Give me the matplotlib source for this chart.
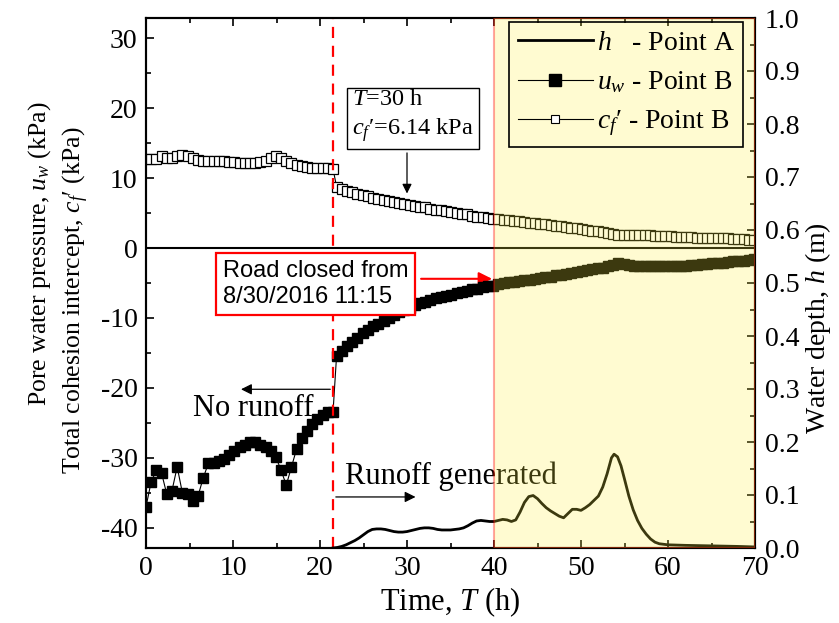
import numpy as np
import matplotlib.pyplot as plt
import matplotlib.ticker as ticker
from matplotlib.lines import Line2D

plt.rcParams['font.family'] = 'Liberation Serif'
plt.rcParams['mathtext.fontset'] = 'custom'
plt.rcParams['mathtext.rm'] = 'Liberation Serif'
plt.rcParams['mathtext.it'] = 'Liberation Serif:italic'

# sampling times (h), before and after road closure
t_before = np.linspace(0, 21.5, 37)
t_after = np.linspace(21.9, 69.9, 81)

# pore water pressure u_w at point B (kPa)
uw_before = [-37.0, -33.4, -31.8, -32.2, -35.2, -34.7, -31.3, -35.0, -35.2, -36.2,
             -35.5, -32.9, -30.8, -30.7, -30.5, -30.2, -29.6, -29.0, -28.5, -28.1,
             -27.7, -27.7, -28.1, -28.5, -29.0, -29.9, -31.8, -33.9, -31.3, -28.7,
             -27.1, -26.2, -25.2, -24.4, -23.9, -23.5, -23.4]
uw_after = [-15.5, -14.7, -14.0, -13.4, -12.8, -12.2, -11.7, -11.2, -10.8, -10.4,
            -10.0, -9.6, -9.2, -8.9, -8.6, -8.2, -7.9, -7.7, -7.4, -7.2,
            -7.0, -6.8, -6.7, -6.5, -6.3, -6.1, -5.9, -5.8, -5.6, -5.5,
            -5.4, -5.2, -5.0, -4.9, -4.8, -4.7, -4.6, -4.5, -4.4, -4.3,
            -4.2, -4.1, -3.9, -3.8, -3.7, -3.5, -3.4, -3.3, -3.2, -3.0,
            -2.9, -2.8, -2.6, -2.4, -2.2, -2.3, -2.4, -2.5, -2.5, -2.6,
            -2.6, -2.6, -2.6, -2.6, -2.6, -2.5, -2.5, -2.5, -2.4, -2.4,
            -2.3, -2.3, -2.2, -2.2, -2.1, -2.0, -1.9, -1.9, -1.8, -1.7, -1.6]

# total cohesion intercept c_f' at point B (kPa)
cf_before = [12.7, 12.8, 12.7, 13.1, 12.9, 12.9, 13.1, 13.3, 13.1, 12.9,
             12.6, 12.5, 12.5, 12.5, 12.5, 12.4, 12.3, 12.3, 12.2, 12.1,
             12.1, 12.2, 12.3, 12.5, 12.9, 13.1, 12.9, 12.5, 12.2, 11.9,
             11.8, 11.6, 11.5, 11.5, 11.4, 11.4, 11.3]
cf_after = [8.8, 8.5, 8.2, 8.0, 7.8, 7.6, 7.4, 7.2, 7.0, 6.9,
            6.7, 6.6, 6.4, 6.3, 6.1, 6.0, 5.9, 5.8, 5.6, 5.5,
            5.4, 5.3, 5.1, 5.0, 4.9, 4.8, 4.6, 4.5, 4.4, 4.3,
            4.2, 4.1, 4.0, 4.0, 3.9, 3.8, 3.7, 3.6, 3.6, 3.5,
            3.4, 3.3, 3.2, 3.1, 3.0, 2.9, 2.8, 2.7, 2.6, 2.5,
            2.4, 2.3, 2.1, 2.0, 1.8, 1.8, 1.8, 1.8, 1.8, 1.8,
            1.8, 1.7, 1.7, 1.7, 1.7, 1.6, 1.6, 1.6, 1.6, 1.5,
            1.5, 1.5, 1.5, 1.4, 1.4, 1.4, 1.3, 1.3, 1.3, 1.2, 1.2]

# water depth h at point A (m)
t_h = [21.5, 22.0, 22.5, 23.0, 23.5, 24.0, 24.5, 25.0, 25.5, 26.0, 26.5, 27.0, 27.5,
       28.0, 28.5, 29.0, 29.5, 30.0, 30.5, 31.0, 31.5, 32.0, 32.5, 33.0, 33.5, 34.0,
       34.5, 35.0, 35.5, 36.0, 36.5, 37.0, 37.5, 38.0, 38.5, 39.0, 39.5, 40.0, 40.5,
       41.0, 41.5, 42.0, 42.5, 43.0, 43.5, 44.0, 44.5, 45.0, 45.5, 46.0, 46.5, 47.0,
       47.5, 48.0, 48.5, 49.0, 49.5, 50.0, 50.5, 51.0, 51.5, 52.0, 52.5, 53.0, 53.5,
       53.8, 54.2, 54.6, 55.0, 55.5, 56.0, 56.5, 57.0, 57.5, 58.0, 58.5, 59.0, 60.0,
       62.0, 65.0, 68.0, 70.0]
h = [0.0, 0.001, 0.003, 0.006, 0.010, 0.014, 0.019, 0.025, 0.031, 0.035, 0.036, 0.036, 0.035,
     0.033, 0.031, 0.030, 0.030, 0.031, 0.033, 0.035, 0.037, 0.038, 0.038, 0.037, 0.035, 0.034,
     0.034, 0.034, 0.035, 0.036, 0.038, 0.042, 0.047, 0.051, 0.052, 0.051, 0.050, 0.050, 0.052,
     0.054, 0.053, 0.050, 0.053, 0.068, 0.086, 0.097, 0.099, 0.093, 0.084, 0.076, 0.070, 0.065,
     0.060, 0.057, 0.065, 0.073, 0.073, 0.071, 0.076, 0.082, 0.090, 0.098, 0.115, 0.140, 0.170,
     0.177, 0.172, 0.155, 0.130, 0.098, 0.072, 0.052, 0.037, 0.026, 0.017, 0.011, 0.008, 0.006,
     0.005, 0.004, 0.003, 0.002]

t_uw = np.concatenate([t_before, t_after])
uw = np.concatenate([uw_before, uw_after])
cf = np.concatenate([cf_before, cf_after])

CF = '$c_f$\u2032'

fig = plt.figure(figsize=(8.39, 6.23), dpi=100)
ax = fig.add_axes([146 / 839, 75 / 623, 609 / 839, 530 / 623])
ax2 = ax.twinx()

ax.plot(t_uw, cf, color='k', lw=0.8, marker='s', ms=6.5, mfc='white', mec='k', mew=0.9, zorder=3)
ax.plot(t_uw, uw, color='k', lw=0.8, marker='s', ms=7.5, mfc='k', mec='k', zorder=4)
ax.axhline(0, color='k', lw=1.5, zorder=2)
ax.axvline(21.5, color='red', lw=1.6, ls=(0, (5, 3.5)), zorder=5)

ax.set_xlim(0, 70)
ax.set_ylim(-42.9, 32.9)
ax2.set_ylim(0, 1.0)

ax2.plot(t_h, h, color='k', lw=2, zorder=3)
ax2.axvspan(40, 70, facecolor=(1, 0.95, 0.25, 0.24), edgecolor=(1, 0, 0, 0.35), lw=1.5, zorder=6)

# axes styling
ax.xaxis.set_major_locator(ticker.MultipleLocator(10))
ax.xaxis.set_minor_locator(ticker.MultipleLocator(5))
ax.yaxis.set_major_locator(ticker.MultipleLocator(10))
ax.yaxis.set_minor_locator(ticker.MultipleLocator(5))
ax2.yaxis.set_major_locator(ticker.MultipleLocator(0.1))
ax2.yaxis.set_minor_locator(ticker.MultipleLocator(0.05))
ax2.yaxis.set_major_formatter(ticker.FormatStrFormatter('%.1f'))
ax.yaxis.set_major_formatter(ticker.FuncFormatter(lambda v, p: '%d' % v))

ax.tick_params(which='both', direction='in', top=True, right=False, labelsize=20, width=1.2)
ax.tick_params(which='major', length=6)
ax.tick_params(which='minor', length=3.5)
ax.tick_params(axis='x', pad=6)
ax.tick_params(axis='y', pad=6)
ax2.tick_params(which='both', direction='in', labelsize=20, width=1.2, pad=7)
ax2.tick_params(which='major', length=6)
ax2.tick_params(which='minor', length=3.5)
for a in (ax, ax2):
    for s in a.spines.values():
        s.set_linewidth(1.5)

ax.set_xlabel('Time, $T$ (h)', fontsize=22, labelpad=3)
fig.text(818 / 839, 1 - 328 / 623, 'Water depth, $h$ (m)', fontsize=20,
         rotation=90, ha='center', va='center')
fig.text(40 / 839, 1 - 254 / 623, 'Pore water pressure, $u_w$ (kPa)', fontsize=18.5,
         rotation=90, ha='center', va='center')
fig.text(76 / 839, 1 - 300 / 623, 'Total cohesion intercept, ' + CF + ' (kPa)', fontsize=18.5,
         rotation=90, ha='center', va='center')

# annotations
ax.text(5.36, -24.0, 'No runoff', fontsize=22, va='baseline', ha='left', zorder=7)
ax.annotate('', xy=(10.6, -20.2), xytext=(21.5, -20.2),
            arrowprops=dict(arrowstyle='-|>', color='k', lw=0.9, mutation_scale=16))
ax.text(22.9, -33.8, 'Runoff generated', fontsize=22, va='baseline', ha='left', zorder=7)
ax.annotate('', xy=(31.3, -35.6), xytext=(21.5, -35.6),
            arrowprops=dict(arrowstyle='-|>', color='k', lw=0.9, mutation_scale=16))

ax.text(30.7, 18.8, '$T$=30 h\n' + CF + '=6.14 kPa', fontsize=17.5, ha='center', va='center',
        multialignment='left', linespacing=1.35, zorder=7,
        bbox=dict(boxstyle='square,pad=0.2', fc='white', ec='k', lw=1.0))
ax.annotate('', xy=(30.0, 7.4), xytext=(30.0, 14.0),
            arrowprops=dict(arrowstyle='-|>', color='k', lw=0.9, mutation_scale=14))

ax.text(19.5, -5.14, 'Road closed from\n8/30/2016 11:15', fontsize=17, family='Liberation Sans',
        ha='center', va='center', multialignment='left', linespacing=1.2, zorder=7,
        bbox=dict(boxstyle='square,pad=0.3', fc='white', ec='red', lw=1.6))
ax.annotate('', xy=(40.1, -4.4), xytext=(31.3, -4.4),
            arrowprops=dict(arrowstyle='-|>', color='red', lw=1.5, mutation_scale=20))

# legend
handles = [Line2D([], [], color='k', lw=2),
           Line2D([], [], color='k', lw=0.8, marker='s', ms=9, mfc='k', mec='k'),
           Line2D([], [], color='k', lw=0.8, marker='s', ms=5.5, mfc='white', mec='k', mew=0.8)]
labels = ['$h$   - Point A', '$u_w$ - Point B', CF + ' - Point B']
leg = ax2.legend(handles, labels, loc='upper right', bbox_to_anchor=(0.981, 0.992),
                 fontsize=20, frameon=True, fancybox=False, edgecolor='k', facecolor='none',
                 framealpha=1, borderaxespad=0, handlelength=2.7, handletextpad=0.15,
                 borderpad=0.3, labelspacing=0.48)
leg.get_frame().set_linewidth(1.2)
leg.set_zorder(10)

fig.savefig('out.png', dpi=100)
